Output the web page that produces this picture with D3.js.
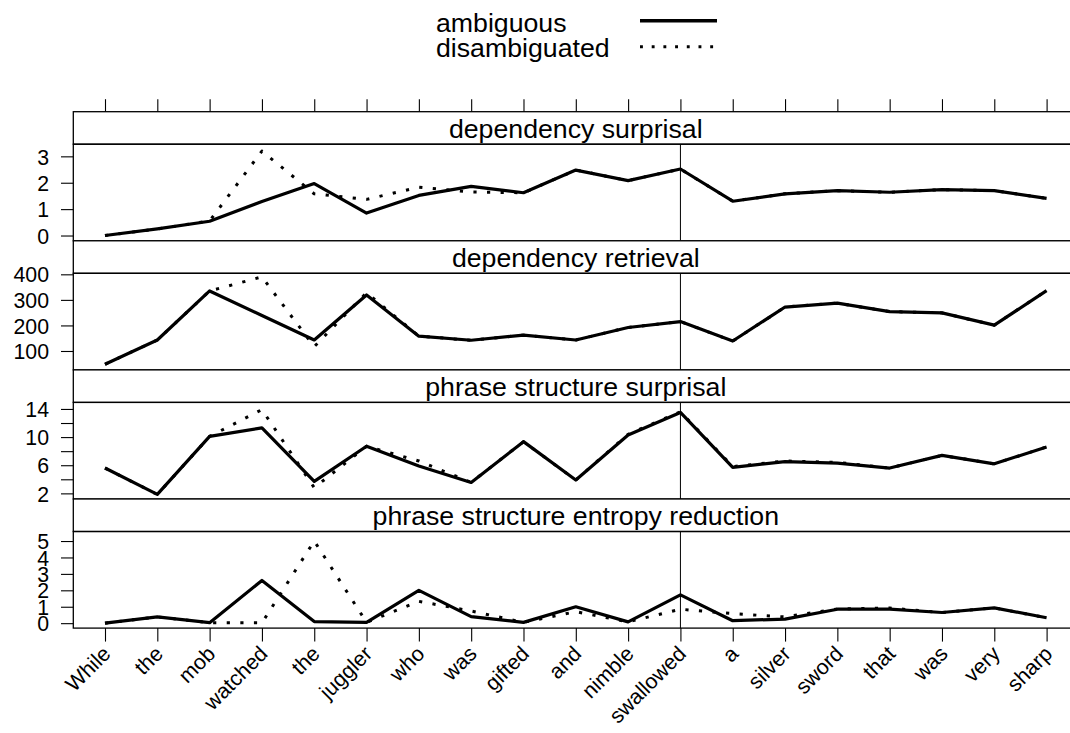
<!DOCTYPE html>
<html>
<head>
<meta charset="utf-8">
<script src="https://cdn.jsdelivr.net/npm/d3@7/dist/d3.min.js"></script>
<style>
  html, body { margin: 0; padding: 0; background: #fff; }
  svg { display: block; font-family: "Liberation Sans", Arial, Helvetica, sans-serif; }
</style>
</head>
<body>
<svg id="chart" width="1070" height="733"></svg>
<script>
// ---------------- data ----------------
const words = ["While","the","mob","watched","the","juggler","who","was","gifted","and","nimble","swallowed","a","silver","sword","that","was","very","sharp"];
const panels = ["dependency surprisal","dependency retrieval","phrase structure surprisal","phrase structure entropy reduction"];
const seriesNames = ["ambiguous","disambiguated"];

const depSurpAmb = [0, 0.25, 0.54, 1.29, 1.97, 0.85, 1.52, 1.86, 1.62, 2.48, 2.08, 2.52, 1.3, 1.58, 1.7, 1.64, 1.74, 1.7, 1.41];
const depSurpDis = [0, 0.25, 0.55, 3.2, 1.58, 1.37, 1.83, 1.65, 1.62, 2.48, 2.08, 2.52, 1.3, 1.58, 1.7, 1.64, 1.74, 1.7, 1.41];

const depRetrAmb = [48, 143, 335, 239, 143, 319, 158, 142, 162, 143, 192, 215, 139, 272, 287, 254, 249, 201, 336];
const depRetrDis = [48, 143, 335, 390, 117, 328, 158, 142, 162, 143, 192, 215, 139, 272, 287, 254, 249, 201, 336];

const psSurpAmb = [5.6, 1.85, 10.1, 11.3, 3.7, 8.7, 5.9, 3.55, 9.35, 3.9, 10.3, 13.5, 5.7, 6.5, 6.3, 5.6, 7.4, 6.2, 8.6];
const psSurpDis = [5.6, 1.85, 10.1, 13.9, 2.8, 8.7, 6.6, 3.55, 9.35, 3.9, 10.4, 13.6, 5.8, 6.6, 6.4, 5.6, 7.4, 6.2, 8.6];

const psEntAmb = [0, 0.38, 0.03, 2.6, 0.1, 0.05, 2.0, 0.4, 0.05, 1.0, 0.08, 1.72, 0.15, 0.25, 0.85, 0.85, 0.65, 0.93, 0.33];
const psEntDis = [0, 0.38, 0.03, 0.02, 5.0, 0.05, 1.33, 0.74, 0.05, 0.7, 0.08, 0.85, 0.58, 0.38, 0.87, 0.92, 0.65, 0.93, 0.33];

const yDomains = [[-0.2, 3.46], [26, 404], [1.2, 14.93], [-0.3, 5.58]];
const yTicks = [[0,1,2,3], [100,200,300,400], [2,4,6,8,10,12,14], [0,1,2,3,4,5]];
const yTickLabels = [[0,1,2,3], [100,200,300,400], [2,6,10,14], [0,1,2,3,4,5]];
const markerWordIndex = 11; // "swallowed"

const panelData = [
  [depSurpAmb, depSurpDis],
  [depRetrAmb, depRetrDis],
  [psSurpAmb, psSurpDis],
  [psEntAmb, psEntDis]
];

// ---------------- layout ----------------
const svg = d3.select("#chart");
const W = 1070;
const left = 73.3, rightFull = 1078.3;
const top0 = 111.7, block = 129.1, stripH = 32.5, panelH = block - stripH;
const baseFont = 26.7, tickFont = 21.3;
const lineW = 3.2;

const x = d3.scaleLinear().domain([0.394, 19.606]).range([left, rightFull]);
const idx = d3.range(1, words.length + 1);

const styles = [
  {dash: null},
  {dash: "3.2,10.4"}
];

// frame clip
svg.append("defs").append("clipPath").attr("id", "pageclip")
  .append("rect").attr("x", 0).attr("y", 0).attr("width", W).attr("height", 733);

const g = svg.append("g");

panels.forEach((name, p) => {
  const stripTop = top0 + p * block;
  const pTop = stripTop + stripH;
  const pBot = pTop + panelH;
  const y = d3.scaleLinear().domain(yDomains[p]).range([pBot, pTop]);

  // strip
  g.append("rect").attr("x", left).attr("y", stripTop).attr("width", rightFull - left).attr("height", stripH)
    .attr("fill", "#fff").attr("stroke", "#000").attr("stroke-width", 1.3);
  g.append("text").attr("x", (left + rightFull) / 2).attr("y", stripTop + 26)
    .attr("text-anchor", "middle").attr("font-size", baseFont).attr("fill", "#000").text(name);

  // panel box
  g.append("rect").attr("x", left).attr("y", pTop).attr("width", rightFull - left).attr("height", panelH)
    .attr("fill", "none").attr("stroke", "#000").attr("stroke-width", 1.3);

  // y axis
  const yAxis = d3.axisLeft(y).tickValues(yTicks[p]).tickSize(12.3).tickPadding(12)
    .tickFormat(d => yTickLabels[p].includes(d) ? String(d) : "");
  const ax = g.append("g").attr("transform", `translate(${left},0)`).call(yAxis);
  ax.select(".domain").remove();
  ax.selectAll(".tick line").attr("stroke", "#000").attr("stroke-width", 1.1);
  ax.selectAll(".tick text").attr("font-size", tickFont).attr("fill", "#000")
    .attr("font-family", "Liberation Sans, Arial, sans-serif").attr("dy", "0.36em");

  // reference line at "swallowed"
  g.append("line").attr("x1", x(idx[markerWordIndex])).attr("x2", x(idx[markerWordIndex]))
    .attr("y1", pTop).attr("y2", pBot).attr("stroke", "#000").attr("stroke-width", 1);

  // series
  const line = d3.line().x((d, i) => x(idx[i])).y(d => y(d));
  panelData[p].forEach((vals, s) => {
    const path = g.append("path").datum(vals).attr("d", line)
      .attr("fill", "none").attr("stroke", "#000").attr("stroke-width", lineW)
      .attr("stroke-linejoin", "round");
    if (styles[s].dash) path.attr("stroke-dasharray", styles[s].dash).attr("stroke-width", 3.0);
  });
});

// top ticks
const topAxis = d3.axisTop(x).tickValues(idx).tickSize(12.5).tickFormat("");
const ta = g.append("g").attr("transform", `translate(0,${top0})`).call(topAxis);
ta.select(".domain").remove();
ta.selectAll(".tick line").attr("stroke", "#000").attr("stroke-width", 1.1);

// bottom ticks and labels
const bottomY = top0 + 4 * block;
const bottomAxis = d3.axisBottom(x).tickValues(idx).tickSize(13.5).tickFormat("");
const ba = g.append("g").attr("transform", `translate(0,${bottomY})`).call(bottomAxis);
ba.select(".domain").remove();
ba.selectAll(".tick line").attr("stroke", "#000").attr("stroke-width", 1.1);

g.append("g").selectAll("text").data(words).join("text")
  .attr("transform", (d, i) => `translate(${x(idx[i]) + 2},${bottomY + 22}) rotate(-45)`)
  .attr("text-anchor", "end").attr("dominant-baseline", "central")
  .attr("font-size", tickFont).attr("fill", "#000").text(d => d);

// legend
const legend = svg.append("g");
const legX = 436, legLineX1 = 640, legLineX2 = 717;
const legRows = [{y: 31.7, ly: 20.7}, {y: 56.7, ly: 46.7}];
seriesNames.forEach((nm, i) => {
  legend.append("text").attr("x", legX).attr("y", legRows[i].y).attr("font-size", baseFont)
    .attr("fill", "#000").text(nm);
  const l = legend.append("line").attr("x1", legLineX1).attr("x2", legLineX2)
    .attr("y1", legRows[i].ly).attr("y2", legRows[i].ly).attr("stroke", "#000");
  if (i === 0) l.attr("stroke-width", 3.6);
  else l.attr("stroke-width", 2.9).attr("stroke-dasharray", "2.9,8.8");
});
</script>
</body>
</html>
